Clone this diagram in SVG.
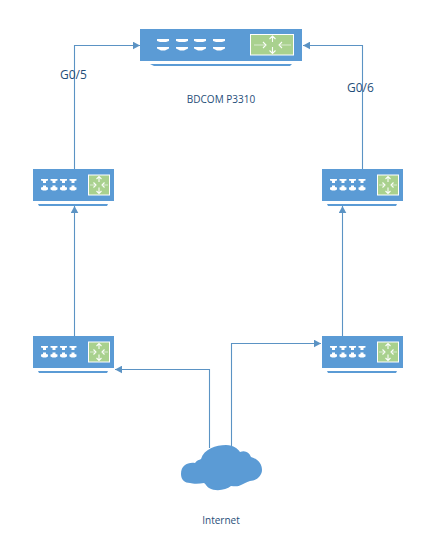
<svg xmlns="http://www.w3.org/2000/svg" width="422" height="543" viewBox="0 0 422 543">
<style>
text{font-family:"Open Sans","Liberation Sans",sans-serif;fill:#1f4e79}
.lbl{font-size:12px}
.cap{font-size:10px}
.c{fill:none;stroke:#5b93c4;stroke-width:1.1;marker-end:url(#a)}
.b{fill:#5b9bd5}
.g{fill:#a9d18e;stroke:#fff;stroke-width:1}
.w{fill:#fff}
.ga{stroke:#fff;stroke-width:1.1;fill:none;opacity:.95}
.gh{stroke:#d9ead0;stroke-width:1;fill:none}
</style>
<defs>
<marker id="a" markerUnits="userSpaceOnUse" markerWidth="8" markerHeight="8" refX="7" refY="4" orient="auto"><path d="M0 0.2L7 4L0 7.800Z" fill="#5b93c4"/></marker>
<g id="port"><path class="w" d="M0 0H7V1.500L5 2V4H2V2L0 1.500Z"/><path class="w" d="M2 6.500H5V8L7 8.500V10.500L5 11.500H2L0 10.500V8.500L2 8Z"/></g>
<g id="sw">
<rect class="b" width="81" height="32"/>
<path class="b" d="M5 35H75L74 37H6Z"/>
<use href="#port" x="8" y="10"/><use href="#port" x="17.500" y="10"/><use href="#port" x="27" y="10"/><use href="#port" x="36.500" y="10"/>
<rect class="g" x="55.500" y="6" width="21" height="20"/>
<path class="ga" d="M66 7.500V13M66 18.500V24.500M63.500 10L66 7.500L68.500 10M63.500 22L66 24.500L68.500 22"/>
<path class="gh" d="M57 16H63M69 16H75"/>
<path class="ga" d="M60.500 13.500L63 16L60.500 18.500M71.500 13.500L69 16L71.500 18.500"/>
</g>
</defs>
<g id="connectors">
<path class="c" d="M74.500 169V45.500H140"/>
<path class="c" d="M362.500 169V45.500H303"/>
<path class="c" d="M74.500 336V206"/>
<path class="c" d="M342.500 336V206"/>
<path class="c" d="M209.500 448V369.500H115"/>
<path class="c" d="M231.500 446V343.500H321"/>
</g>
<g id="main-switch">
<rect class="b" x="140" y="29" width="162" height="32"/>
<path class="b" d="M150 64H292L290 66H154Z"/>
<path class="w" d="M157 39H169V41L166 42H160L157 41Z M157 47H169V48.500L165 50.500H161L157 48.500Z M176 39H188V41L185 42H179L176 41Z M176 47H188V48.500L184 50.500H180L176 48.500Z M194 39H206V41L203 42H197L194 41Z M194 47H206V48.500L202 50.500H198L194 48.500Z M213 39H225V41L222 42H216L213 41Z M213 47H225V48.500L221 50.500H217L213 48.500Z"/>
<rect class="g" x="250.500" y="34.500" width="43" height="20.500"/>
<path class="gh" d="M254 45H266M279 45H291"/>
<path class="ga" d="M272.500 36V42M272.500 47V53.500M269.500 39L272.500 36L275.500 39M269.500 50.500L272.500 53.500L275.500 50.500M263 42L266 45L263 48M282 42L279 45L282 48"/>
</g>
<text class="cap" x="221" y="103" text-anchor="middle">BDCOM P3310</text>
<g id="sw-top-left"><use href="#sw" x="33" y="169"/></g>
<g id="sw-top-right"><use href="#sw" x="322" y="169"/></g>
<g id="sw-bottom-left"><use href="#sw" x="33" y="336"/></g>
<g id="sw-bottom-right"><use href="#sw" x="322" y="336"/></g>
<g id="cloud">
<path class="b" d="M181 474C181 465 188 462 195 463C197 460 199 460 201 459C204 449 216 445 226 445C234 445 238 449 240 452C245 450 249 452 251 457C258 459 262 464 262 470C262 476 256 481 250 481C246 482 244 484 241 485C238 487 234 486 231 486C226 490 216 492 209 488C206 486 206 484 204 483C199 484 193 484 190 483C185 483 181 480 181 474Z"/>
</g>
<text class="cap" x="221" y="524" text-anchor="middle">Internet</text>
<text class="lbl" x="60" y="79">G0/5</text>
<text class="lbl" x="347" y="92">G0/6</text>
</svg>
